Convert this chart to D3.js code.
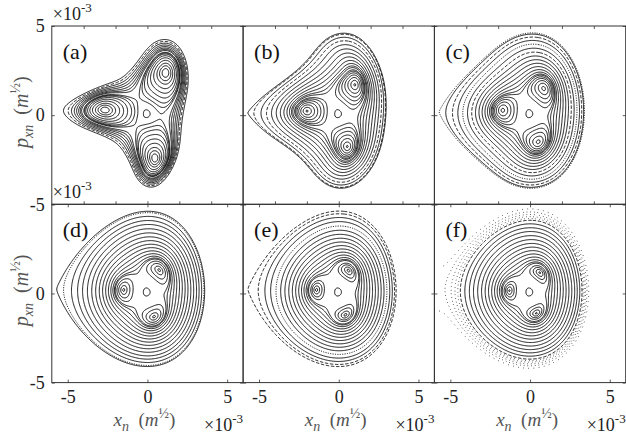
<!DOCTYPE html>
<html>
<head>
<meta charset="utf-8">
<script src="https://cdn.jsdelivr.net/npm/d3@7"></script>
<style>
  html, body { margin: 0; padding: 0; background: #fff; }
  svg { display: block; }
  text { font-family: "Liberation Serif", "Times New Roman", "DejaVu Serif", serif; }
</style>
</head>
<body>
<svg id="chart" width="626" height="437"></svg>
<script>
// ---------------------------------------------------------------
// Phase portraits (x_n, p_xn) in units of 1e-3 m^(1/2), six cases.
// ---------------------------------------------------------------
const panelNames = ["(a)", "(b)", "(c)", "(d)", "(e)", "(f)"];

// centres of the three resonance islands: left, upper, lower
const islandX = [
  [-2.80, 1.12, 0.45],
  [-2.13, 0.96, 0.52],
  [-1.79, 0.82, 0.51],
  [-1.53, 0.72, 0.41],
  [-1.40, 0.58, 0.44],
  [-1.33, 0.57, 0.41]
];
const islandP = [
  [0.30, 2.34, -2.34],
  [0.24, 1.63, -1.72],
  [0.28, 1.44, -1.49],
  [0.20, 1.28, -1.30],
  [0.20, 1.22, -1.26],
  [0.16, 1.10, -1.15]
];
// direction (degrees) of the three outer lobes of the last closed curve
const lobeAngle = [
  [178, 66, -85],
  [180, 80, -85],
  [180, 78, -84],
  null, null, null
];
// radius of the unstable fixed points between the islands
const saddleRadius = [0.90, 0.85, 0.95, 0.98, 0.92, 0.88];
// radial reach of the third-order resonance term
const resonanceReach = [100, 8, 3.5, 2.2, 2.1, 2.0];

// x where each invariant curve crosses the mid-plane on the right
const outerCross = [
  [1.45, 1.58, 1.70, 1.82, 1.93, 2.04, 2.14, 2.24],
  [1.25, 1.42, 1.60, 1.78, 1.96, 2.14, 2.32, 2.50, 2.66, 2.80, 2.92, 3.02, 3.12],
  [1.15, 1.32, 1.50, 1.68, 1.86, 2.04, 2.22, 2.40, 2.58, 2.76, 2.94, 3.10, 3.24, 3.36, 3.46, 3.56],
  [1.10, 1.28, 1.46, 1.64, 1.82, 2.00, 2.18, 2.36, 2.54, 2.72, 2.90, 3.08, 3.24, 3.40, 3.54, 3.66],
  [1.05, 1.22, 1.40, 1.58, 1.76, 1.94, 2.12, 2.30, 2.48, 2.66, 2.84, 3.02, 3.20, 3.36, 3.50, 3.62],
  [1.00, 1.18, 1.36, 1.54, 1.72, 1.90, 2.08, 2.26, 2.44, 2.62, 2.80, 2.96, 3.12, 3.26]
];
// orbit kind of each of those curves: t = torus, c = thin island chain, s = sparse orbit
const outerKind = [
  ["t", "t", "t", "t", "t", "t", "c", "t"],
  ["t", "t", "t", "t", "t", "t", "t", "t", "c", "t", "c", "t", "t"],
  ["t", "t", "t", "t", "t", "t", "t", "t", "c", "t", "s", "t", "c", "t", "s", "t"],
  ["t", "t", "t", "t", "t", "t", "t", "t", "t", "t", "t", "t", "t", "t", "s", "t"],
  ["t", "t", "t", "t", "t", "t", "t", "t", "t", "t", "t", "s", "t", "t", "c", "c"],
  ["t", "t", "t", "t", "t", "t", "t", "t", "t", "t", "t", "t", "t", "c"]
];
// x where each island orbit crosses the left island's mid-line (inner side)
const islandCross = [
  [-0.60, -0.80, -1.00, -1.25, -1.50, -1.75, -2.00, -2.20, -2.40],
  [-0.72, -0.92, -1.12, -1.32, -1.52, -1.72, -1.92],
  [-0.80, -1.00, -1.20, -1.40, -1.60],
  [-0.90, -1.10, -1.28, -1.42],
  [-0.90, -1.05, -1.20, -1.32],
  [-0.85, -1.00, -1.13, -1.25]
];
// x of the small orbit around the central fixed point
const coreCross = [0.17, 0.17, 0.17, 0.17, 0.17, 0.17];
// scattered (chaotic) orbits beyond the last invariant curve
const chaosCross = [[], [], [], [], [], [3.33, 3.40, 3.48, 3.57, 3.68]];

// axis ticks
const xTicksTop = [-4, -2, 0, 2, 4];
const xTicksBottom = [-5, 0, 5];
const yTicks = [-5, 0, 5];

// ---------------------------------------------------------------
// layout
// ---------------------------------------------------------------
const X_LEFT = 51.8, PW = 191.3, Y_TOP = 26, PH = 178.3;
const FONT = "'Liberation Serif', 'Times New Roman', 'DejaVu Serif', serif";
const svg = d3.select("#chart");

// ---------------------------------------------------------------
// model invariant: teardrop base with a saddle at the left tip,
// plus the third-order resonance normal form
// ---------------------------------------------------------------
const TIP = 5.7, Q4 = -0.15, K3 = 1 + 4 * Q4, M3 = -0.12, SY = 0.938;
const ROT = -1.5 * Math.PI / 180, CX = -0.05, CY = 0.08;
const cR = Math.cos(ROT), sR = Math.sin(ROT);
const S_TIP = TIP * Math.sqrt(2 * (1 / 6 - Q4 / 3));

function radiusMetric(x, y) {
  const dx = x - CX, dy = y - CY;
  const X = (dx * cR + dy * sR) / TIP;
  const Y = SY * (-dx * sR + dy * cR) / TIP;
  const r2 = X * X + Y * Y;
  const B = 0.5 * r2 + K3 / 3 * X * X * X + M3 / 3 * Y * Y * Y + Q4 * r2 * r2;
  return TIP * Math.sqrt(2 * Math.max(B, 0));
}

function det3(m) {
  return m[0][0] * (m[1][1] * m[2][2] - m[1][2] * m[2][1])
       - m[0][1] * (m[1][0] * m[2][2] - m[1][2] * m[2][0])
       + m[0][2] * (m[1][0] * m[2][1] - m[1][1] * m[2][0]);
}
function solve3(m, v) {
  const d = det3(m);
  return [0, 1, 2].map(k => det3(m.map((row, r) => row.map((c, j) => j === k ? v[r] : c))) / d);
}
// angular warp a + b sin(t) + c cos(t) that sends the given directions to the island phases
const TARGETS = [Math.PI, Math.PI / 3, -Math.PI / 3];
function warpFrom(angles) {
  const M = angles.map(t => [1, Math.sin(t), Math.cos(t)]);
  return solve3(M, angles.map((t, k) => TARGETS[k] - t));
}

function makeField(i) {
  const inner = warpFrom(islandX[i].map((x, k) => Math.atan2(islandP[i][k] - CY, x - CX)));
  const outer = lobeAngle[i] ? warpFrom(lobeAngle[i].map(d => d * Math.PI / 180)) : inner;

  const si = d3.mean(islandX[i], (x, k) => radiusMetric(x, islandP[i][k]));
  const ss = saddleRadius[i], se = resonanceReach[i];
  const P = s => (3 * s * s - 2 * Math.pow(s, 4) / (se * se)) * Math.exp(-(s / se) * (s / se));
  const Pi = P(si), Ps = P(ss);
  const D = 2 * si * Ps + 2 * ss * Pi;
  const A = (-4 * Math.pow(si, 3) * Ps - 4 * Math.pow(ss, 3) * Pi) / D;
  const S = 8 * si * ss * (si * si - ss * ss) / D;

  return (x, y) => {
    const s = radiusMetric(x, y);
    const t = Math.atan2(y - CY, x - CX);
    let w = Math.min(1, Math.max(0, (s - si) / (S_TIP - si)));
    w = w * w * (3 - 2 * w);
    const a = inner[0] + w * (outer[0] - inner[0]);
    const b = inner[1] + w * (outer[1] - inner[1]);
    const c = inner[2] + w * (outer[2] - inner[2]);
    const tp = t + a + b * Math.sin(t) + c * Math.cos(t);
    return A * s * s + s * s * s * s + S * s * s * s * Math.exp(-(s / se) * (s / se)) * Math.cos(3 * tp);
  };
}

// sampling grid
const GX0 = -6, GY0 = -5, STEP = 0.05;
const NX = Math.round(12 / STEP) + 1, NY = Math.round(10 / STEP) + 1;
const contourGen = d3.contours().size([NX, NY]).smooth(true);

const dashFor = { t: null, c: "3.4 1.7", s: "1.1 1.3", x: "0.6 3.1" };

panelNames.forEach((name, i) => {
  const col = i % 3, row = Math.floor(i / 3);
  const x0 = X_LEFT + col * PW, y0 = Y_TOP + row * PH;
  const xs = d3.scaleLinear().domain([-6, 6]).range([x0, x0 + PW]);
  const ys = d3.scaleLinear().domain([-5, 5]).range([y0 + PH, y0]);

  const field = makeField(i);
  const values = new Float64Array(NX * NY);
  for (let j = 0; j < NY; j++) {
    const y = GY0 + j * STEP;
    for (let k = 0; k < NX; k++) values[j * NX + k] = field(GX0 + k * STEP, y);
  }

  // mountain pass at the left tip: last closed level
  let fTip = -Infinity;
  for (let x = -6; x <= -4.4; x += 0.02) {
    let m = Infinity;
    for (let y = -1.5; y <= 2; y += 0.02) m = Math.min(m, field(x, y));
    fTip = Math.max(fTip, m);
  }

  const ringsAt = level => {
    const c = contourGen.contour(values, level);
    const out = [];
    c.coordinates.forEach(poly => poly.forEach(r =>
      out.push(r.map(([gx, gy]) => [GX0 + (gx - 0.5) * STEP, GY0 + (gy - 0.5) * STEP]))));
    return out;
  };
  const nearest = (rings, px, py) => {
    let best = null, bd = Infinity;
    rings.forEach(r => {
      let d = Infinity;
      r.forEach(p => { const e = (p[0] - px) ** 2 + (p[1] - py) ** 2; if (e < d) d = e; });
      if (d < bd) { bd = d; best = r; }
    });
    return best;
  };

  const clipId = "clip" + i;
  svg.append("clipPath").attr("id", clipId)
    .append("rect").attr("x", x0).attr("y", y0).attr("width", PW).attr("height", PH);

  const g = svg.append("g").attr("clip-path", `url(#${clipId})`)
    .attr("fill", "none").attr("stroke", "#000").attr("stroke-width", 0.9);
  const line = d3.line().x(d => xs(d[0])).y(d => ys(d[1])).curve(d3.curveLinearClosed);
  const draw = (ring, kind) => {
    const p = g.append("path").attr("d", line(ring));
    if (dashFor[kind]) p.attr("stroke-dasharray", dashFor[kind]);
  };
  // scattered orbits: only the part that stays near the last invariant curve
  const inside = d => ((d[0] + 0.1) / 5.85) ** 2 + ((d[1] - 0.1) / 4.85) ** 2 < 1 && d[0] > -5.85;
  const openLine = d3.line().defined(inside).x(d => xs(d[0])).y(d => ys(d[1]));

  // curves enclosing the whole island chain
  const usedLevels = new Set();
  outerCross[i].forEach((x, k) => {
    let level = field(x, CY);
    if (level >= fTip) level = fTip - 1e-3 * Math.abs(fTip) - 1e-6;
    const key = level.toFixed(6);
    if (usedLevels.has(key)) return;
    usedLevels.add(key);
    const r = nearest(ringsAt(level), x, CY);
    if (r) draw(r, outerKind[i][k]);
  });

  // island orbits (each visits all three islands)
  const yI = islandP[i][0];
  islandCross[i].forEach(x => {
    const level = field(x, yI);
    ringsAt(level).forEach(r => {
      if (d3.polygonContains(r, [CX, CY])) return;
      const ex = d3.extent(r, p => p[0]), ey = d3.extent(r, p => p[1]);
      if (ex[0] < -5.9 || ex[1] > 5.9 || ey[0] < -4.9 || ey[1] > 4.9) return;
      draw(r, "t");
    });
  });

  // orbit round the central fixed point
  {
    const level = field(coreCross[i], CY);
    const r = nearest(ringsAt(level), coreCross[i], CY);
    if (r) draw(r, "t");
  }

  // scattered outer orbits
  chaosCross[i].forEach((x, k) => {
    const level = field(x, CY);
    const r = nearest(ringsAt(level), x, CY);
    if (r) g.append("path").attr("d", openLine(r.concat([r[0]])))
      .attr("stroke-dasharray", k === chaosCross[i].length - 1 ? "0.6 4.6" : dashFor.x)
      .attr("stroke-dashoffset", k * 0.9)
      .attr("stroke-width", 1);
  });

  // frame
  svg.append("rect").attr("x", x0).attr("y", y0).attr("width", PW).attr("height", PH)
    .attr("fill", "none").attr("stroke", "#333").attr("stroke-width", 1);

  // ticks (inward) on all four sides
  const xt = row === 0 ? xTicksTop : xTicksBottom;
  const styleAxis = sel => {
    sel.attr("font-family", null).attr("font-size", null);
    sel.select(".domain").remove();
    sel.selectAll(".tick line").attr("stroke", "#333").attr("stroke-width", 0.8);
    sel.selectAll("text").style("font-family", FONT).style("font-size", "18px").attr("fill", "#222");
  };
  const fmt = d => String(d);

  const bottomAx = d3.axisBottom(xs).tickValues(xt).tickSizeInner(-3).tickSizeOuter(0)
    .tickPadding(8).tickFormat(row === 1 ? fmt : () => "");
  svg.append("g").attr("transform", `translate(0,${y0 + PH})`).call(bottomAx).call(styleAxis);
  svg.append("g").attr("transform", `translate(0,${y0})`)
    .call(d3.axisTop(xs).tickValues(xt).tickSizeInner(-3).tickSizeOuter(0).tickFormat(() => ""))
    .call(styleAxis);

  const yLabels = row === 0 ? yTicks : yTicks.filter(v => v !== 5);
  const leftAx = d3.axisLeft(ys).tickValues(yTicks).tickSizeInner(-3).tickSizeOuter(0)
    .tickPadding(7).tickFormat(d => (col === 0 && yLabels.includes(d)) ? fmt(d) : "");
  svg.append("g").attr("transform", `translate(${x0},0)`).call(leftAx).call(styleAxis);
  svg.append("g").attr("transform", `translate(${x0 + PW},0)`)
    .call(d3.axisRight(ys).tickValues(yTicks).tickSizeInner(-3).tickSizeOuter(0).tickFormat(() => ""))
    .call(styleAxis);

  // panel letter
  svg.append("text").attr("x", x0 + 11).attr("y", y0 + 33)
    .style("font-family", FONT).style("font-size", "22px").attr("fill", "#111").text(name);

  // axis titles and exponent labels
  const title = (t, head, sub) => {
    t.append("tspan").attr("font-style", "italic").text(head);
    t.append("tspan").attr("font-style", "italic").style("font-size", "14px").attr("dy", 5).text(sub);
    t.append("tspan").attr("dy", -5).text("\u00a0\u00a0(");
    t.append("tspan").attr("font-style", "italic").text("m");
    t.append("tspan").style("font-size", "14px").attr("dy", -8).text("\u00bd");
    t.append("tspan").attr("dy", 8).text(")");
  };
  const exponent = e => {
    e.append("tspan").text("\u00d710");
    e.append("tspan").style("font-size", "13px").attr("dy", -8).text("-3");
  };
  if (row === 1) {
    const t = svg.append("text").attr("x", x0 + PW / 2 - 3).attr("y", 426)
      .attr("text-anchor", "middle").style("font-family", FONT).style("font-size", "19px").attr("fill", "#555");
    title(t, "x", "n");
    const e = svg.append("text").attr("x", x0 + PW).attr("y", 431)
      .attr("text-anchor", "end").style("font-family", FONT).style("font-size", "18px").attr("fill", "#222");
    exponent(e);
  }
  if (col === 0) {
    const t = svg.append("text")
      .attr("transform", `translate(28,${y0 + PH / 2 - 3}) rotate(-90)`)
      .attr("text-anchor", "middle").style("font-family", FONT).style("font-size", "20px").attr("fill", "#555");
    title(t, "p", "xn");
    const e = svg.append("text").attr("x", x0 + 1).attr("y", y0 - 6)
      .style("font-family", FONT).style("font-size", "18px").attr("fill", "#222");
    exponent(e);
  }
});
</script>
</body>
</html>
